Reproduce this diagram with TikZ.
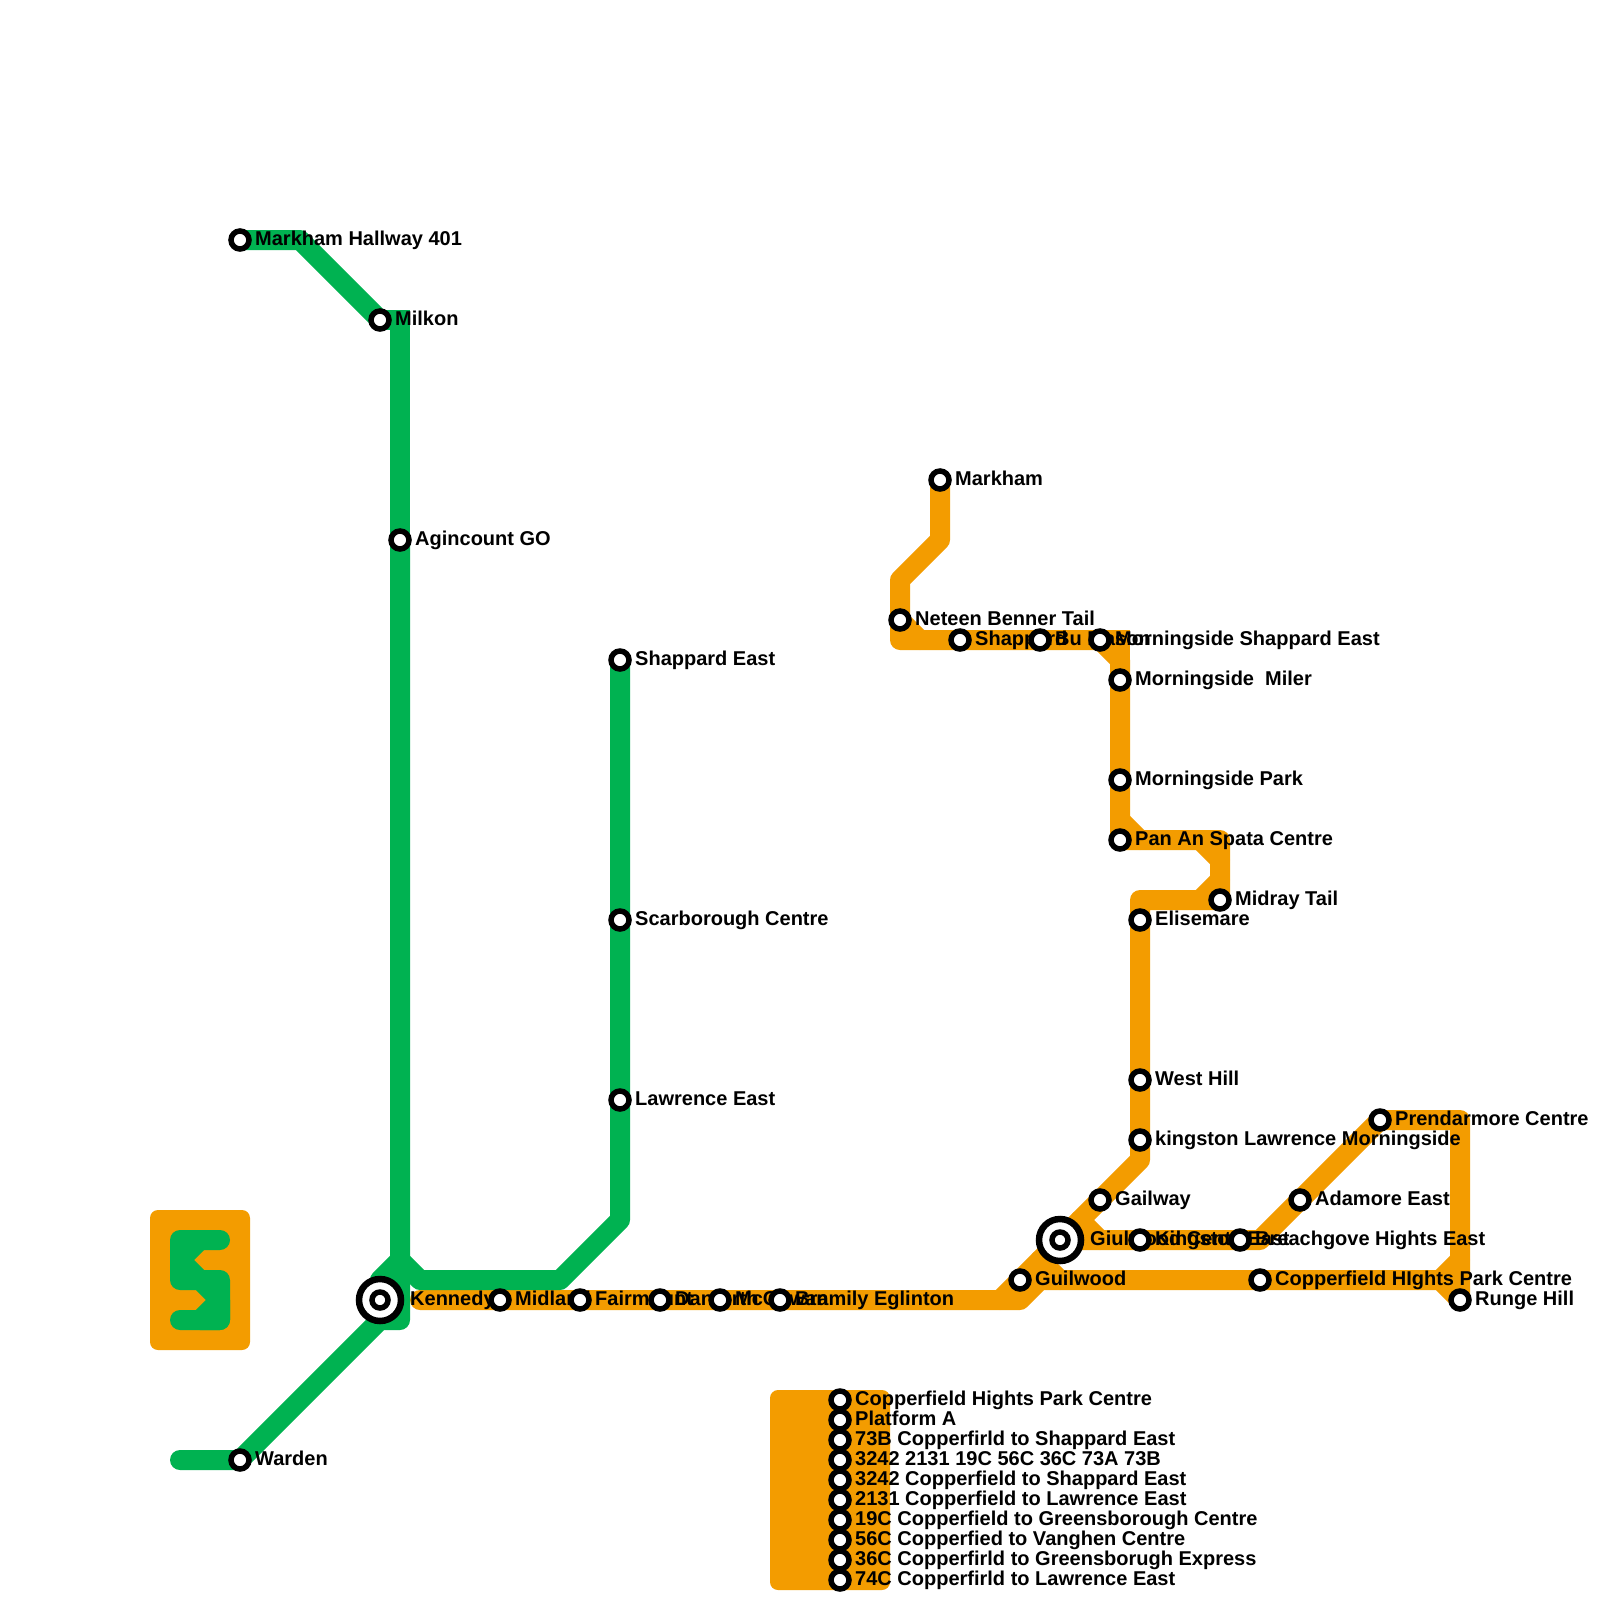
\documentclass[tikz,border=0pt]{standalone}
\usepackage{fontspec}
\setmainfont{Liberation Sans}
\usetikzlibrary{backgrounds}
\definecolor{cgreen}{HTML}{00B251}
\definecolor{corange}{HTML}{F39C00}
\tikzset{
  gline/.style={draw=cgreen, line width=20pt, line cap=round, line join=round},
  oline/.style={draw=corange, line width=20pt, line cap=round, line join=round},
  sharp/.style={line cap=butt, line join=miter},
  oblock/.style={fill=corange, rounded corners=8pt, inner sep=0pt},
  stop/.style={circle, draw=black, fill=white, line width=5.5pt, minimum size=18pt, inner sep=0pt},
  stopin/.style={circle, draw=black, fill=white, line width=5.5pt, minimum size=16pt, inner sep=0pt},
  bigstop/.style={circle, draw=black, fill=white, line width=6.5pt, minimum size=42pt, inner sep=0pt},
  lbl/.style={anchor=base west, inner sep=0pt, text=black, font=\fontsize{20}{20}\selectfont\bfseries},
}
% name/x/y/label offset/text
\newcommand{\stnlist}{
  mhw/240/240/15/Markham Hallway 401,
  milkon/380/320/15/Milkon,
  agin/400/540/15/Agincount GO,
  shape/620/660/15/Shappard East,
  scar/620/920/15/Scarborough Centre,
  lawe/620/1100/15/Lawrence East,
  warden/240/1460/15/Warden,
  midland/500/1300/15/Midland,
  fairm/580/1300/15/Fairmount,
  danf/660/1300/15/Danforth,
  mccow/720/1300/15/McCowan,
  bramily/780/1300/15/Bramily Eglinton,
  markham/940/480/15/Markham,
  neteen/900/620/15/Neteen Benner Tail,
  shapp/960/640/15/Shappard,
  bumas/1040/640/15/Bu Mason,
  mshape/1100/640/15/Morningside Shappard East,
  mmiler/1120/680/15/Morningside\ \ Miler,
  mpark/1120/780/15/Morningside Park,
  panan/1120/840/15/Pan An Spata Centre,
  midray/1220/900/15/Midray Tail,
  elise/1140/920/15/Elisemare,
  westh/1140/1080/15/West Hill,
  kingl/1140/1140/15/kingston Lawrence Morningside,
  gailw/1100/1200/15/Gailway,
  kinge/1140/1240/15/Kingston East,
  beach/1240/1240/15/Breachgove Hights East,
  guilw/1020/1280/15/Guilwood,
  copph/1260/1280/15/Copperfield HIghts Park Centre,
  runge/1460/1300/15/Runge Hill,
  adam/1300/1200/15/Adamore East,
  prend/1380/1120/15/Prendarmore Centre,
  pa/840/1400/15/Copperfield Hights Park Centre,
  pb/840/1420/15/Platform A,
  pc/840/1440/15/73B Copperfirld to Shappard East,
  pd/840/1460/15/3242 2131 19C 56C 36C 73A 73B,
  pe/840/1480/15/3242 Copperfield to Shappard East,
  pf/840/1500/15/2131 Copperfield to Lawrence East,
  pg/840/1520/15/19C Copperfield to Greensborough Centre,
  ph/840/1540/15/56C Copperfied to Vanghen Centre,
  pi/840/1560/15/36C Copperfirld to Greensborugh Express,
  pj/840/1580/15/74C Copperfirld to Lawrence East}

\begin{document}
\begin{tikzpicture}[x=1pt, y=-1pt]
\useasboundingbox (0,0) rectangle (1600,1600);
% labels go under the stops
\node[lbl] (kennedy-lbl) at (410,1305) {Kennedy};
\node[lbl] (giul-lbl) at (1090,1245) {Giulwood Centre};
\foreach \nm/\x/\y/\dx/\txt in \stnlist {
  \node[lbl] (\nm-lbl) at (\x+\dx,\y+5) {\txt};
}
\foreach \nm/\x/\y/\dx/\txt in \stnlist {
  \node[stop] (\nm) at (\x,\y) {};
}
\node[bigstop] (kennedy) at (380,1300) {};
\node[stopin] (kennedyin) at (380,1300) {};
\node[bigstop] (giul) at (1060,1240) {};
\node[stopin] (giulin) at (1060,1240) {};
% bends
\coordinate (gend) at (180,1460);
\coordinate (gb1) at (380,1320);
\coordinate (gb2) at (400,1320);
\coordinate (gj) at (400,1260);
\coordinate (gb3) at (380,1280);
\coordinate (gb4) at (420,1280);
\coordinate (gb5) at (560,1280);
\coordinate (gb6) at (620,1220);
\coordinate (gb7) at (400,320);
\coordinate (gb8) at (300,240);
\coordinate (ob1) at (940,540);
\coordinate (ob2) at (900,580);
\coordinate (ob3) at (900,640);
\coordinate (ob4) at (920,640);
\coordinate (ob5) at (1120,640);
\coordinate (ob6) at (1120,660);
\coordinate (ob7) at (1120,820);
\coordinate (ob8) at (1140,840);
\coordinate (ob9) at (1220,840);
\coordinate (ob10) at (1200,840);
\coordinate (ob11) at (1220,860);
\coordinate (ob12) at (1220,880);
\coordinate (ob13) at (1200,900);
\coordinate (ob14) at (1140,900);
\coordinate (ob15) at (1140,1160);
\coordinate (ob16) at (1000,1300);
\coordinate (ob17) at (1020,1300);
\coordinate (ob18) at (1040,1280);
\coordinate (ob19) at (1440,1280);
\coordinate (ob20) at (1460,1260);
\coordinate (ob21) at (1460,1120);
\coordinate (ob22) at (1260,1240);
\coordinate (ob23) at (1080,1220);
\coordinate (ob24) at (1100,1240);
\coordinate (ob25) at (1040,1260);
\coordinate (ob26) at (1060,1280);
\coordinate (ob27) at (420,1300);
\begin{scope}[on background layer]
  % blocks behind the lines
  \node[oblock, minimum width=100pt, minimum height=140pt] (key) at (200,1280) {};
  \node[oblock, minimum width=120pt, minimum height=200pt] (depot) at (830,1490) {};
  % orange lines
  \draw[oline] (markham.center) -- (ob1) -- (ob2) -- (neteen.center) -- (ob3) -- (mshape.center);
  \draw[oline] (neteen.center) -- (ob4);
  \draw[oline, sharp] (mshape.center) -- (ob5) -- (ob6);
  \draw[oline] (mshape.center) -- (ob6) -- (mmiler.center) -- (mpark.center) -- (panan.center) -- (ob9) -- (midray.center) -- (ob14) -- (elise.center) -- (westh.center) -- (kingl.center) -- (ob15) -- (gailw.center) -- (giul.center) -- (guilw.center) -- (ob16);
  \draw[oline] (ob7) -- (ob8);
  \draw[oline] (ob10) -- (ob11);
  \draw[oline] (ob12) -- (ob13);
  \draw[oline] (ob27) -- (midland.center) -- (fairm.center) -- (danf.center) -- (mccow.center) -- (bramily.center) -- (ob17) -- (ob18) -- (copph.center) -- (ob19) -- (runge.center);
  \draw[oline] (ob19) -- (ob20);
  \draw[oline] (runge.center) -- (ob21) -- (prend.center) -- (adam.center) -- (ob22) -- (beach.center) -- (kinge.center) -- (giul.center);
  \draw[oline] (ob23) -- (ob24);
  \draw[oline] (ob25) -- (ob26);
  % green lines
  \draw[gline] (gend) -- (warden.center) -- (gb1) -- (gb2) -- (gj) -- (agin.center);
  \draw[gline, sharp] (agin.center) -- (gb7) -- (milkon.center);
  \draw[gline] (milkon.center) -- (gb8) -- (mhw.center);
  \draw[gline] (kennedy.center) -- (gb3) -- (gj) -- (gb4) -- (gb5) -- (gb6) -- (lawe.center) -- (scar.center) -- (shape.center);
  % the S on the key block
  \draw[gline] (220,1240) -- (180,1240) -- (180,1280) -- (200,1280) -- (220,1300) -- (220,1320) -- (180,1320);
  \draw[gline] (200,1240) -- (180,1260) -- (200,1280) -- (220,1280) -- (220,1320) -- (200,1320) -- (220,1300);
\end{scope}
\end{tikzpicture}
\end{document}
